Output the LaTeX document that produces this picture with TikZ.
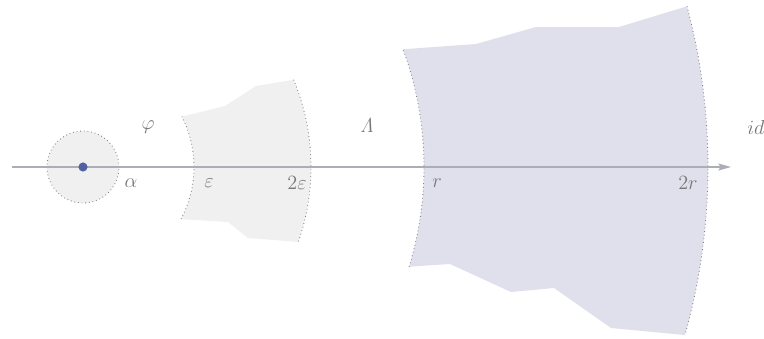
\documentclass[tikz,border=0pt]{standalone}
\usepackage{amsmath, amssymb}
\usepackage{tikz}
\usepackage{xcolor}
\usetikzlibrary{arrows.meta}

\definecolor{lightfill}{HTML}{F0F0F0}
\definecolor{bigfill}{HTML}{DFE0EC}
\definecolor{axisgray}{HTML}{ADADB6}
\definecolor{labelgray}{HTML}{777777}
\definecolor{dotblue}{HTML}{5262A0}

\begin{document}
\begin{tikzpicture}[x=0.025cm, y=0.025cm,
    rim/.style={dotted, draw=gray, line width=0.6pt},
    lbl/.style={text=labelgray, font=\fontsize{15}{18}\selectfont, inner sep=0pt}]
    \useasboundingbox (-83,-171) rectangle (681,167);

    % small ball around the point
    \fill[lightfill] (0,0) circle (36);
    \draw[rim] (0,0) circle (36);

    % annulus between eps and 2 eps
    \fill[lightfill] (-28:111) arc[start angle=-28, end angle=27, radius=111]
        -- (142,61) -- (173,81) -- (22.5:228)
        arc[start angle=22.5, end angle=-19.2, radius=228]
        -- (165,-71) -- (145,-55) -- cycle;
    \draw[rim] (-28:111) arc[start angle=-28, end angle=27, radius=111];
    \draw[rim] (22.5:228) arc[start angle=22.5, end angle=-19.2, radius=228];

    % annulus between r and 2r
    \fill[bigfill] (-17:341) arc[start angle=-17, end angle=20.2, radius=341]
        -- (393,123) -- (453,140) -- (536,140) -- (14.9:625)
        arc[start angle=14.9, end angle=-15.6, radius=625]
        -- (528,-161) -- (471,-121) -- (428,-125) -- (367,-97) -- cycle;
    \draw[rim] (-17:341) arc[start angle=-17, end angle=20.2, radius=341];
    \draw[rim] (14.9:625) arc[start angle=14.9, end angle=-15.6, radius=625];

    % axis
    \coordinate (start) at (-71,0);
    \coordinate (end) at (648,0);
    \draw[axisgray, line width=1pt, -{Stealth[length=9pt, width=5pt, inset=1.5pt]}] (start) -- (end);
    \node[circle, fill=dotblue, inner sep=0pt, minimum size=6.5pt] (pt) at (0,0) {};

    % labels
    \node[lbl] (phi) at (65,40) {$\varphi$};
    \node[lbl] (alpha) at (48,-16) {$\alpha$};
    \node[lbl] (eps) at (126,-16) {$\varepsilon$};
    \node[lbl] (twoeps) at (214,-16) {$2\varepsilon$};
    \node[lbl] (lam) at (284,41) {$\mathit{\Lambda}$};
    \node[lbl] (r) at (354,-16) {$r$};
    \node[lbl] (twor) at (605,-16) {$2r$};
    \node[lbl] (id) at (673,40) {$id$};
\end{tikzpicture}
\end{document}
